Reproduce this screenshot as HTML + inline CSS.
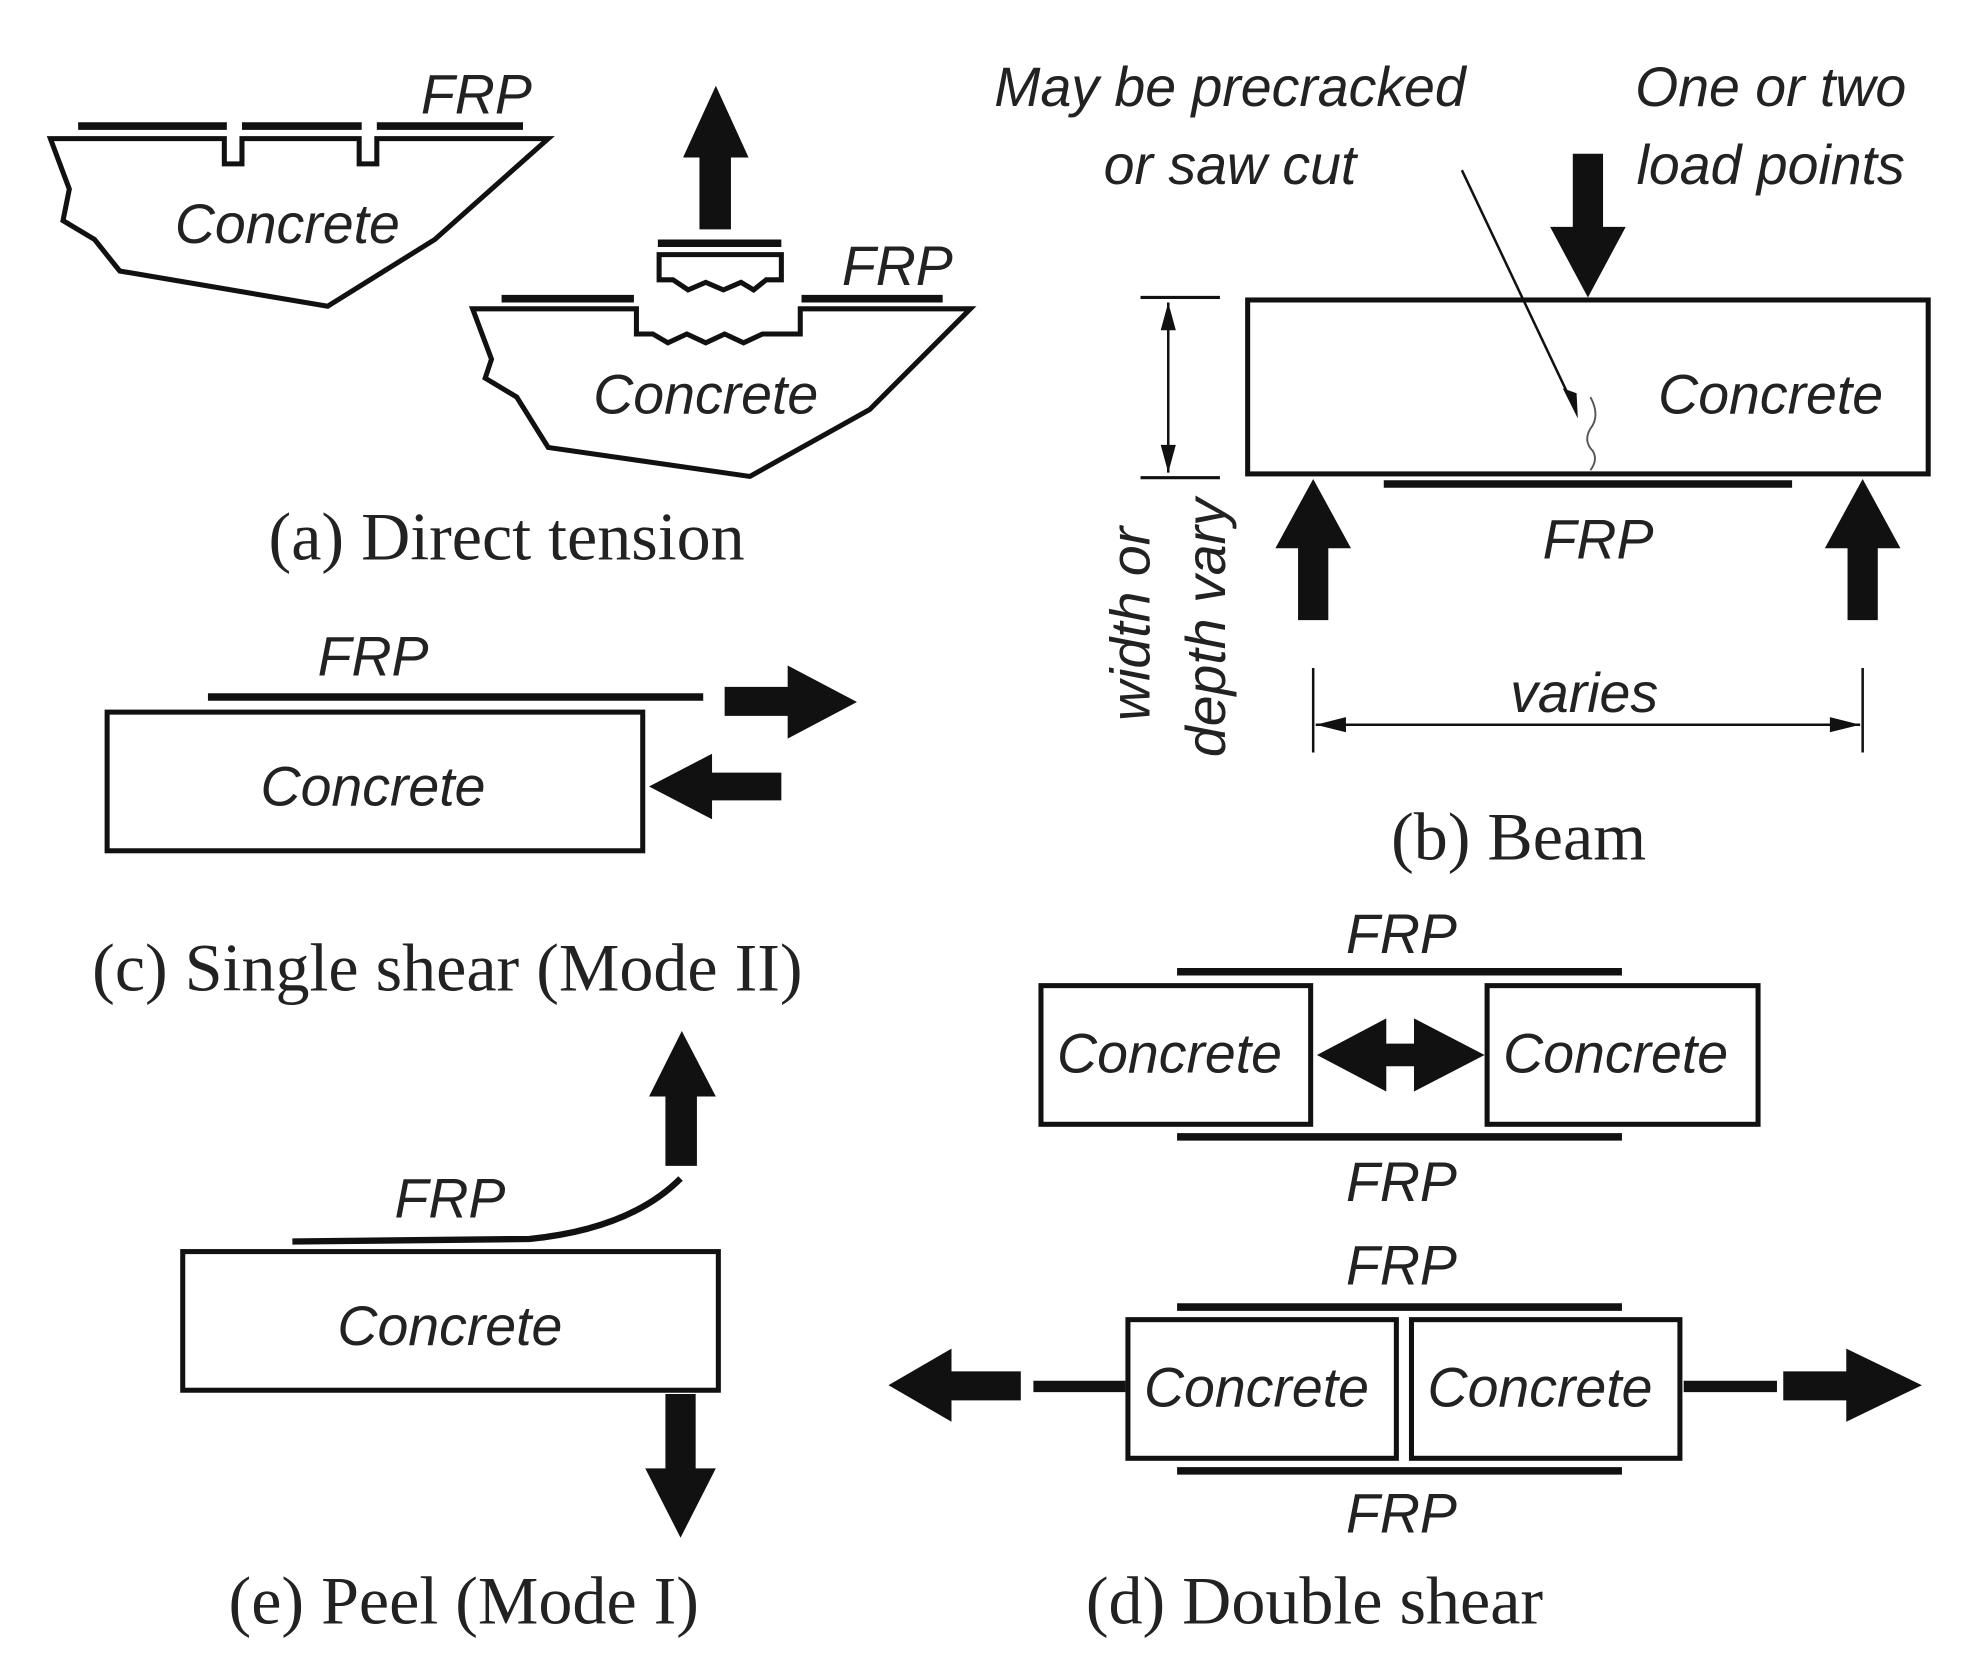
<!DOCTYPE html>
<html><head><style>
html,body{margin:0;padding:0;background:#fff;}
svg{display:block;}
.s{font-family:"Liberation Sans",sans-serif;font-style:italic;font-size:44px;fill:#222;text-anchor:middle;}
.c{font-family:"Liberation Serif",serif;font-size:54px;fill:#222;text-anchor:middle;}
.o{fill:none;stroke:#111;stroke-width:4;}
.f{stroke:#111;stroke-width:6;}
</style></head><body>
<svg width="1966" height="1665" viewBox="0 0 1560 1321" preserveAspectRatio="none" xmlns="http://www.w3.org/2000/svg">
<rect width="1560" height="1321" fill="#fff"/>
<line class="f" x1="62" y1="100" x2="180" y2="100"/><line class="f" x1="192" y1="100" x2="287" y2="100"/><line class="f" x1="299" y1="100" x2="415" y2="100"/>
<path class="o" d="M40,110 L178,110 L178,130 L192,130 L192,110 L285,110 L285,130 L299,130 L299,110 L435,110 L345,190 L260,243 L95,215 L75,190 L50,175 L55,150 Z"/>
<text class="s" x="228" y="193">Concrete</text>
<text class="s" x="378" y="90">FRP</text>
<path d="M555,182 L580,182 L580,125 L594,125 L568,68 L542,125 L555,125 Z" fill="#111"/>
<line class="f" x1="522" y1="193" x2="620" y2="193"/>
<path class="o" d="M523,202 L620,202 L620,222 L608,222 L598,230 L588,224 L574,230 L560,224 L546,230 L534,222 L523,222 Z"/>
<line class="f" x1="398" y1="237" x2="503" y2="237"/><line class="f" x1="636" y1="237" x2="748" y2="237"/>
<path class="o" d="M375,245 L505,245 L505,265 L518,265 L530,272 L545,265 L560,272 L575,265 L590,272 L605,265 L635,265 L635,245 L770,245 L690,325 L595,378 L435,355 L410,315 L385,300 L390,285 Z"/>
<text class="s" x="560" y="328">Concrete</text>
<text class="s" x="712" y="226">FRP</text>
<text class="c" x="402" y="444">(a) Direct tension</text>
<text class="s" x="976" y="84">May be precracked</text>
<text class="s" x="976" y="146">or saw cut</text>
<text class="s" x="1405" y="84">One or two</text>
<text class="s" x="1405" y="146">load points</text>
<path d="M1248,122 L1272,122 L1272,180 L1290,180 L1260,236 L1230,180 L1248,180 Z" fill="#111"/>
<rect class="o" x="990" y="238" width="540" height="138"/>
<line class="f" x1="1098" y1="384" x2="1422" y2="384"/>
<text class="s" x="1268" y="443">FRP</text>
<text class="s" x="1405" y="328">Concrete</text>
<line x1="1160" y1="135" x2="1250" y2="325" stroke="#111" stroke-width="2"/>
<path d="M1252,332 L1240,308 L1251,312 Z" fill="#111"/>
<path d="M1262,315 Q1270,330 1262,340 Q1256,350 1264,358 Q1268,365 1262,373" fill="none" stroke="#555" stroke-width="1.5"/>
<path d="M1030,492 L1054,492 L1054,435 L1072,435 L1042,380 L1012,435 L1030,435 Z" fill="#111"/>
<path d="M1466,492 L1490,492 L1490,435 L1508,435 L1478,380 L1448,435 L1466,435 Z" fill="#111"/>
<line x1="905" y1="236" x2="968" y2="236" stroke="#111" stroke-width="2.5"/>
<line x1="905" y1="379" x2="968" y2="379" stroke="#111" stroke-width="2.5"/>
<line x1="927" y1="240" x2="927" y2="375" stroke="#111" stroke-width="2"/>
<path d="M927,240 L921,262 L933,262 Z M927,375 L921,353 L933,353 Z" fill="#111"/>
<text class="s" transform="translate(912,495) rotate(-90)">width or</text>
<text class="s" transform="translate(972,498) rotate(-90)">depth vary</text>
<line x1="1042" y1="530" x2="1042" y2="597" stroke="#111" stroke-width="2"/>
<line x1="1478" y1="530" x2="1478" y2="597" stroke="#111" stroke-width="2"/>
<line x1="1044" y1="575" x2="1476" y2="575" stroke="#111" stroke-width="2"/>
<path d="M1044,575 L1068,569 L1068,581 Z M1476,575 L1452,569 L1452,581 Z" fill="#111"/>
<text class="s" x="1257" y="565">varies</text>
<text class="c" x="1205" y="682">(b) Beam</text>
<text class="s" x="296" y="536">FRP</text>
<line class="f" x1="165" y1="553" x2="558" y2="553"/>
<rect class="o" x="85" y="565" width="425" height="110"/>
<text class="s" x="296" y="639">Concrete</text>
<path d="M575,545 L625,545 L625,528 L680,557 L625,586 L625,568 L575,568 Z" fill="#111"/>
<path d="M620,613 L565,613 L565,598 L515,624 L565,650 L565,635 L620,635 Z" fill="#111"/>
<text class="c" x="355" y="786">(c) Single shear (Mode II)</text>
<rect class="o" x="145" y="993" width="425" height="110"/>
<text class="s" x="357" y="1067">Concrete</text>
<path d="M232,985 L420,983 Q500,975 540,935" fill="none" stroke="#111" stroke-width="5"/>
<text class="s" x="357" y="966">FRP</text>
<path d="M528,925 L553,925 L553,870 L568,870 L541,818 L515,870 L528,870 Z" fill="#111"/>
<path d="M528,1106 L552,1106 L552,1165 L568,1165 L540,1220 L512,1165 L528,1165 Z" fill="#111"/>
<text class="c" x="368" y="1288">(e) Peel (Mode I)</text>
<text class="s" x="1112" y="756">FRP</text>
<line class="f" x1="934" y1="771" x2="1287" y2="771"/>
<rect class="o" x="826" y="782" width="214" height="110"/>
<rect class="o" x="1180" y="782" width="215" height="110"/>
<line class="f" x1="934" y1="902" x2="1287" y2="902"/>
<text class="s" x="1112" y="953">FRP</text>
<text class="s" x="928" y="851">Concrete</text>
<text class="s" x="1282" y="851">Concrete</text>
<path d="M1045,837 L1100,808 L1100,828 L1122,828 L1122,808 L1178,837 L1122,866 L1122,846 L1100,846 L1100,866 Z" fill="#111"/>
<text class="s" x="1112" y="1019">FRP</text>
<line class="f" x1="934" y1="1037" x2="1287" y2="1037"/>
<rect class="o" x="895" y="1047" width="213" height="110"/>
<rect class="o" x="1120" y="1047" width="213" height="110"/>
<line class="f" x1="934" y1="1167" x2="1287" y2="1167"/>
<text class="s" x="1112" y="1216">FRP</text>
<text class="s" x="997" y="1116">Concrete</text>
<text class="s" x="1222" y="1116">Concrete</text>
<line x1="820" y1="1100" x2="893" y2="1100" stroke="#111" stroke-width="9"/>
<line x1="1336" y1="1100" x2="1410" y2="1100" stroke="#111" stroke-width="9"/>
<path d="M810,1088 L755,1088 L755,1070 L705,1099 L755,1128 L755,1111 L810,1111 Z" fill="#111"/>
<path d="M1415,1088 L1465,1088 L1465,1070 L1525,1099 L1465,1128 L1465,1111 L1415,1111 Z" fill="#111"/>
<text class="c" x="1043" y="1288">(d) Double shear</text>
</svg>
</body></html>
